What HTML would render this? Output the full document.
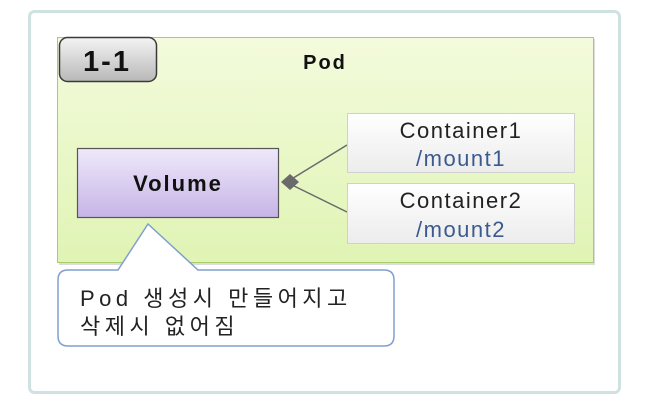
<!DOCTYPE html>
<html><head><meta charset="utf-8"><style>
html,body{margin:0;padding:0;background:#fff;}
svg{display:block;}
</style></head><body>
<svg width="646" height="404" viewBox="0 0 646 404" xmlns="http://www.w3.org/2000/svg">
<defs>
<linearGradient id="gp" x1="0" y1="0" x2="0" y2="1"><stop offset="0" stop-color="#efe9fb"/><stop offset="1" stop-color="#c6b4e6"/></linearGradient>
<linearGradient id="gl" x1="0" y1="0" x2="0" y2="1"><stop offset="0" stop-color="#f4f4f4"/><stop offset="1" stop-color="#b8b8b8"/></linearGradient>
<linearGradient id="gc" x1="0" y1="0" x2="0" y2="1"><stop offset="0" stop-color="#ffffff"/><stop offset="1" stop-color="#ececec"/></linearGradient>
<linearGradient id="gg" x1="0" y1="0" x2="0" y2="1"><stop offset="0" stop-color="#f3fbdc"/><stop offset="1" stop-color="#e0f4b4"/></linearGradient>
</defs>
<rect x="29.5" y="11.5" width="590" height="381" rx="5" fill="#fff" stroke="#cfe2e2" stroke-width="3"/>
<rect x="59" y="39" width="536" height="226" fill="#9a9a9a" opacity="0.35"/>
<rect x="57.5" y="37.5" width="536" height="225" fill="url(#gg)" stroke="#a8cc6a" stroke-width="1"/>
<rect x="59.5" y="37.5" width="97" height="44" rx="8" fill="url(#gl)" stroke="#3a3a3a" stroke-width="1.5"/>
<text x="107" y="71" font-family="Liberation Sans, sans-serif" font-size="29" font-weight="bold" letter-spacing="2" text-anchor="middle" fill="#111">1-1</text>
<text x="325" y="69" font-family="Liberation Sans, sans-serif" font-size="20" font-weight="bold" letter-spacing="2" text-anchor="middle" fill="#111">Pod</text>
<rect x="77.5" y="148.5" width="201" height="69" fill="url(#gp)" stroke="#555" stroke-width="1.2"/>
<text x="178" y="191" font-family="Liberation Sans, sans-serif" font-size="22" font-weight="bold" letter-spacing="2" text-anchor="middle" fill="#111">Volume</text>
<line x1="347" y1="145" x2="290" y2="180" stroke="#6a6a6a" stroke-width="1.5"/>
<line x1="347" y1="212" x2="290" y2="184" stroke="#6a6a6a" stroke-width="1.5"/>
<polygon points="281,182 290,174 299,182 290,190" fill="#6a6a6a"/>
<rect x="347.5" y="113.5" width="227" height="59" fill="url(#gc)" stroke="#d0d0d0"/>
<rect x="347.5" y="183.5" width="227" height="60" fill="url(#gc)" stroke="#d0d0d0"/>
<g font-family="Liberation Sans, sans-serif" font-size="22" letter-spacing="1.5" text-anchor="middle">
<text x="461" y="138" fill="#222">Container1</text>
<text x="461" y="166" fill="#3a5a90">/mount1</text>
<text x="461" y="208" fill="#222">Container2</text>
<text x="461" y="237" fill="#3a5a90">/mount2</text>
</g>
<path d="M68,270 L118,270 L148,224 L198,270 L384,270 Q394,270 394,280 L394,336 Q394,346 384,346 L68,346 Q58,346 58,336 L58,280 Q58,270 68,270 Z" fill="#fff" stroke="#7f9fcf" stroke-width="1.5"/>
<g font-family="Liberation Sans, 'Noto Sans CJK KR', sans-serif" font-size="22" letter-spacing="4.5" fill="#222">
<text x="80" y="306">Pod 생성시 만들어지고</text>
<text x="80" y="334">삭제시 없어짐</text>
</g>
</svg>
</body></html>
